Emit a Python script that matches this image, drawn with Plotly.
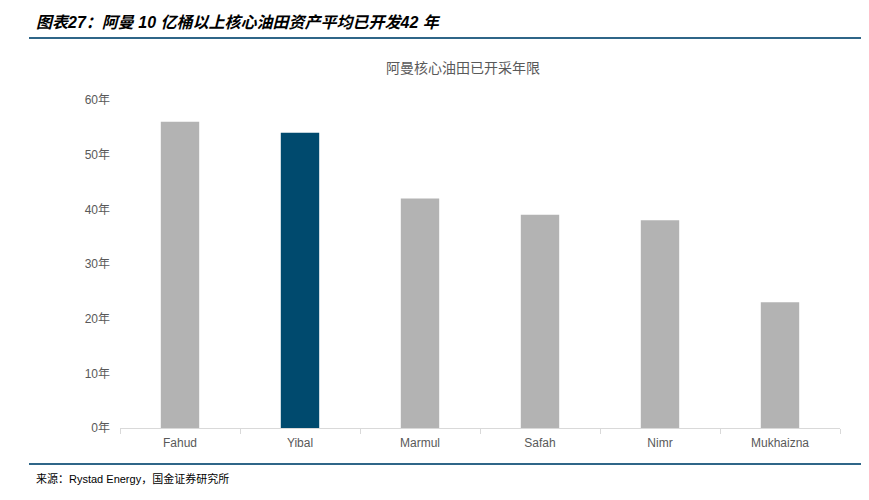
import plotly.graph_objects as go

categories = ["Fahud", "Yibal", "Marmul", "Safah", "Nimr", "Mukhaizna"]
years = [56, 54, 42, 39, 38, 23]
bar_colors = ["#b3b3b3", "#004a6e", "#b3b3b3", "#b3b3b3", "#b3b3b3", "#b3b3b3"]
y_ticks = [0, 10, 20, 30, 40, 50, 60]
y_tick_labels = [f"{v}年" for v in y_ticks]

fig = go.Figure()
fig.add_trace(go.Bar(
    x=categories, y=years,
    marker=dict(color=bar_colors, line=dict(width=0)),
    width=0.32,
))

# page body has an 8px margin; lay out in page pixels and shift
OFF = 8
W, H = 869 - OFF, 500 - OFF
ml = 120 - OFF
mr = 869 - 840
mt = 100 - OFF
mb = H - (428 - OFF)

fig.update_layout(
    width=W, height=H,
    margin=dict(l=ml, r=mr, t=mt, b=mb),
    paper_bgcolor="white", plot_bgcolor="white",
    showlegend=False,
    font=dict(family="Liberation Sans, Noto Sans CJK SC, sans-serif", color="#595959", size=12),
    xaxis=dict(
        showline=True, linecolor="#d9d9d9", linewidth=1,
        ticks="outside", ticklen=5, tickcolor="#d9d9d9",
        tickson="boundaries",
        tickfont=dict(size=12, color="#595959"),
        ticklabelstandoff=4,
        showgrid=False, zeroline=False,
    ),
    yaxis=dict(
        range=[0, 60], tickvals=y_ticks, ticktext=y_tick_labels,
        showgrid=False, zeroline=False, showline=False,
        tickfont=dict(size=12, color="#595959"),
        ticks="", ticklabelstandoff=9,
    ),
)

def px_x(p):
    return (p - OFF - ml) / (W - ml - mr)

def px_y(p):
    return (H - mb - (p - OFF)) / (H - mt - mb)

# header rule and footer rule
for yy in (38, 464):
    fig.add_shape(type="line", xref="paper", yref="paper",
                  x0=px_x(29), x1=px_x(869), y0=px_y(yy), y1=px_y(yy),
                  line=dict(color="#2f6688", width=2))

fig.add_annotation(
    xref="paper", yref="paper", x=px_x(34), y=px_y(22),
    xanchor="left", yanchor="middle", showarrow=False,
    text="<b><i>图表27：阿曼 10 亿桶以上核心油田资产平均已开发42 年</i></b>",
    font=dict(size=16, color="#000000", family="Liberation Sans, Noto Sans CJK SC, sans-serif"),
)
fig.add_annotation(
    xref="paper", yref="paper", x=px_x(463), y=px_y(68),
    xanchor="center", yanchor="middle", showarrow=False,
    text="阿曼核心油田已开采年限",
    font=dict(size=14, color="#595959"),
)
fig.add_annotation(
    xref="paper", yref="paper", x=px_x(34), y=px_y(478),
    xanchor="left", yanchor="middle", showarrow=False,
    text="来源：Rystad Energy，国金证券研究所",
    font=dict(size=11, color="#000000"),
)

fig.write_html("out.html")
